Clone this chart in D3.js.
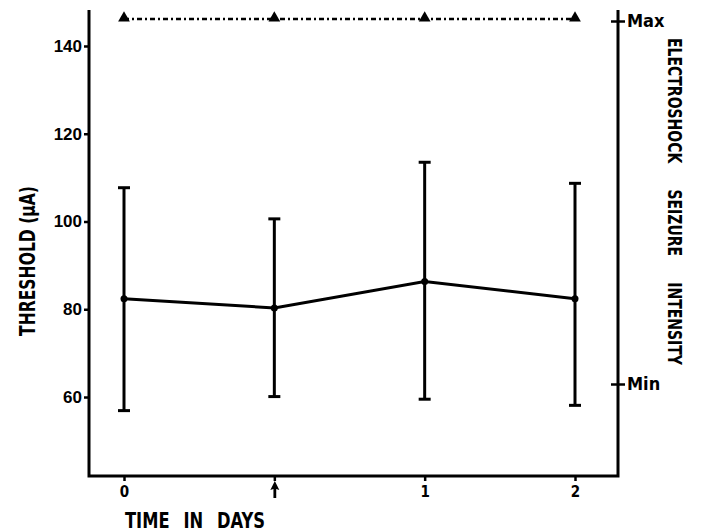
<!DOCTYPE html>
<html>
<head>
<meta charset="utf-8">
<script src="https://cdn.jsdelivr.net/npm/d3@7"></script>
<style>
  body { margin: 0; background: #fff; }
  text { fill: #000; }
</style>
</head>
<body>
<svg id="chart"></svg>
<script>
const svgWidth = 701;
const svgHeight = 532;

// data
const timeLabels = ['0', 'inj', '1', '2'];
const thresholdMean = [82.4, 80.3, 86.3, 82.4];
const thresholdHigh = [107.7, 100.6, 113.5, 108.7];
const thresholdLow = [56.9, 60.1, 59.5, 58.1];
const seizureIntensity = [1, 1, 1, 1]; // 0 = Min, 1 = Max
const thresholdTicks = [60, 80, 100, 120, 140];
const intensityTicks = [0, 1];
const intensityTickLabels = ['Min', 'Max'];

const plot = { left: 89, right: 618, top: 10, bottom: 476 };
const condensed = '"Liberation Sans Narrow", "DejaVu Sans Condensed", sans-serif';

const svg = d3.select('#chart')
  .attr('width', svgWidth)
  .attr('height', svgHeight);

const x = d3.scalePoint()
  .domain(timeLabels)
  .range([124, 575]);

const y = d3.scaleLinear()
  .domain([42, 148.2])
  .range([plot.bottom, plot.top]);

const yR = d3.scaleLinear()
  .domain([0, 1])
  .range([384, 21]);

const data = timeLabels.map((t, i) => ({
  t, mean: thresholdMean[i], hi: thresholdHigh[i], lo: thresholdLow[i], inten: seizureIntensity[i],
}));

// frame: left, bottom, right
svg.append('path')
  .attr('d', `M${plot.left},${plot.top}V${plot.bottom}H${plot.right}V${plot.top}`)
  .attr('fill', 'none')
  .attr('stroke', '#000')
  .attr('stroke-width', 3);

// left axis
const gy = svg.append('g')
  .attr('transform', `translate(${plot.left},0)`)
  .call(d3.axisLeft(y).tickValues(thresholdTicks).tickSize(5).tickPadding(2));
gy.select('.domain').remove();
gy.selectAll('.tick line').attr('stroke-width', 2.5);
gy.selectAll('.tick text')
  .attr('font-family', '"Liberation Sans", Arial, sans-serif')
  .attr('font-size', 17)
  .attr('font-weight', 'bold');

// bottom axis
const gx = svg.append('g')
  .attr('transform', `translate(0,${plot.bottom})`)
  .call(d3.axisBottom(x).tickSize(5).tickPadding(5)
    .tickFormat(d => (d === 'inj' ? '' : d)));
gx.select('.domain').remove();
gx.selectAll('.tick line').attr('stroke-width', 2.5);
gx.selectAll('.tick text')
  .attr('font-family', condensed)
  .attr('font-size', 15)
  .attr('font-weight', 'bold');
// injection arrow
gx.selectAll('.tick')
  .filter(d => d === 'inj')
  .append('path')
  .attr('d', 'M0,5 L-4.5,14 L-1.4,13 L-1.4,22 L1.4,22 L1.4,13 L4.5,14 Z')
  .attr('fill', '#000');

// right axis
const gr = svg.append('g')
  .attr('transform', `translate(${plot.right},0)`)
  .call(d3.axisRight(yR).tickValues(intensityTicks).tickSize(7).tickPadding(2)
    .tickFormat((d, i) => intensityTickLabels[i]));
gr.select('.domain').remove();
gr.selectAll('.tick line').attr('x1', -7).attr('stroke-width', 2.5);
gr.selectAll('.tick text')
  .attr('font-family', condensed)
  .attr('font-size', 18)
  .attr('font-weight', 'bold');

// axis titles
svg.append('text')
  .attr('x', 125)
  .attr('y', 528)
  .attr('textLength', 140)
  .attr('lengthAdjust', 'spacingAndGlyphs')
  .attr('font-family', condensed)
  .attr('font-size', 22)
  .attr('font-weight', 'bold')
  .attr('word-spacing', 10)
  .text('TIME IN DAYS');

svg.append('text')
  .attr('transform', 'translate(35,336) rotate(-90)')
  .attr('textLength', 150)
  .attr('lengthAdjust', 'spacingAndGlyphs')
  .attr('font-family', condensed)
  .attr('font-size', 21)
  .attr('font-weight', 'bold')
  .text('THRESHOLD (\u00b5A)');

svg.append('text')
  .attr('transform', 'translate(668,38) rotate(90)')
  .attr('textLength', 327)
  .attr('lengthAdjust', 'spacingAndGlyphs')
  .attr('font-family', condensed)
  .attr('font-size', 19)
  .attr('font-weight', 'bold')
  .attr('word-spacing', 26)
  .text('ELECTROSHOCK SEIZURE INTENSITY');

// seizure intensity: dash-dot line with triangles
svg.append('path')
  .datum(data)
  .attr('fill', 'none')
  .attr('stroke', '#000')
  .attr('stroke-width', 2.5)
  .attr('stroke-dasharray', '5,3,2,3')
  .attr('d', d3.line().x(d => x(d.t)).y(d => yR(d.inten) - 2));

svg.append('g')
  .selectAll('path')
  .data(data)
  .join('path')
  .attr('transform', d => `translate(${x(d.t)},${yR(d.inten) - 3})`)
  .attr('d', d3.symbol(d3.symbolTriangle, 60));

// error bars
const bars = svg.append('g')
  .attr('stroke', '#000')
  .attr('stroke-width', 3)
  .selectAll('g')
  .data(data)
  .join('g');

bars.append('line')
  .attr('x1', d => x(d.t)).attr('x2', d => x(d.t))
  .attr('y1', d => y(d.hi)).attr('y2', d => y(d.lo));
bars.append('line')
  .attr('x1', d => x(d.t) - 6).attr('x2', d => x(d.t) + 6)
  .attr('y1', d => y(d.hi)).attr('y2', d => y(d.hi));
bars.append('line')
  .attr('x1', d => x(d.t) - 6).attr('x2', d => x(d.t) + 6)
  .attr('y1', d => y(d.lo)).attr('y2', d => y(d.lo));

// mean line
svg.append('path')
  .datum(data)
  .attr('fill', 'none')
  .attr('stroke', '#000')
  .attr('stroke-width', 3)
  .attr('d', d3.line().x(d => x(d.t)).y(d => y(d.mean)));

svg.append('g')
  .selectAll('circle')
  .data(data)
  .join('circle')
  .attr('cx', d => x(d.t))
  .attr('cy', d => y(d.mean))
  .attr('r', 3.5);
</script>
</body>
</html>
